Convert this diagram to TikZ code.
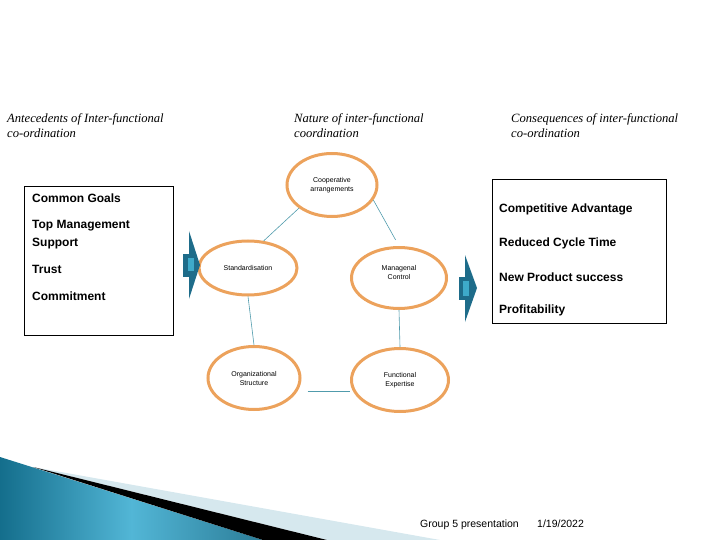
\documentclass[tikz,border=0pt]{standalone}
\usepackage{fontspec}
\setmainfont{Liberation Serif}
\setsansfont{Liberation Sans}
\usepackage{tikz}
\usetikzlibrary{shapes.geometric}
\definecolor{ringorange}{RGB}{236,162,92}
\definecolor{linkteal}{RGB}{80,155,172}
\definecolor{arrowdark}{RGB}{30,108,138}
\definecolor{arrowlight}{RGB}{62,170,202}
\definecolor{wavedark}{RGB}{20,110,140}
\definecolor{wavelight}{RGB}{82,182,214}
\definecolor{wavepale}{RGB}{214,232,238}

\begin{document}
\begin{tikzpicture}[x=1pt,y=-1pt,
		ring/.style={draw=ringorange, line width=3pt, ellipse, inner sep=0pt, align=center, font=\sffamily\fontsize{7}{9}\selectfont},
		link/.style={draw=linkteal, line width=0.6pt},
		head/.style={anchor=base west, inner sep=0pt, font=\itshape\fontsize{12.6}{15}\selectfont},
		item/.style={anchor=base west, inner sep=0pt, font=\sffamily\bfseries\fontsize{12}{15}\selectfont},
		foot/.style={anchor=base west, inner sep=0pt, font=\sffamily\fontsize{10.5}{12}\selectfont}]
		\useasboundingbox (0,0) rectangle (720,540);

		\shade[left color=wavedark, right color=wavedark!90, middle color=wavelight] (0,457) -- (263,540) -- (0,540) -- cycle;
		\fill[wavepale] (33,467) -- (440,540) -- (327,540) -- cycle;
		\fill[black] (33,467) -- (327,540) -- (263,540) -- cycle;

		\node[head] (antea) at (7,123) {Antecedents of Inter-functional};
		\node[head] (anteb) at (7,138) {co-ordination};
		\node[head] (natua) at (294,123) {Nature of inter-functional};
		\node[head] (natub) at (294,138) {coordination};
		\node[head] (consa) at (511,123) {Consequences of inter-functional};
		\node[head] (consb) at (511,138) {co-ordination};

		\draw[line width=0.8pt] (24,186) rectangle (173,335);
		\node[item] (goals) at (32,203) {Common Goals};
		\node[item] (topma) at (32,229) {Top Management};
		\node[item] (suppo) at (32,246) {Support};
		\node[item] (trust) at (32,273) {Trust};
		\node[item] (commi) at (32,300) {Commitment};

		\draw[line width=0.8pt] (492,179) rectangle (666,323);
		\node[item] (compe) at (499,213) {Competitive Advantage};
		\node[item] (cycle) at (499,247) {Reduced Cycle Time};
		\node[item] (newpr) at (499,281) {New Product success};
		\node[item] (profi) at (499,313) {Profitability};

		\node[ring, minimum width=90pt, minimum height=63pt] (coop) at (332,185) {Cooperative\\arrangements};
		\node[ring, minimum width=98pt, minimum height=54pt] (stand) at (248,268) {Standardisation};
		\node[ring, minimum width=95pt, minimum height=61pt] (manag) at (399,278) {Managenal\\Control\\[3pt]};
		\node[ring, minimum width=92pt, minimum height=63pt] (orgst) at (254,378) {Organizational\\Structure};
		\node[ring, minimum width=97pt, minimum height=63pt] (funct) at (400,380) {Functional\\Expertise};

		\draw[link] (coop.215) -- (stand.60);
		\draw[link, shorten >=7pt] (coop.340) -- (manag.north);
		\draw[link] (stand.south) -- (orgst.north);
		\draw[link] (manag.south) -- (funct.north);
		\draw[link] ([xshift=6pt, yshift=-13pt]orgst.east) -- ([yshift=-11pt]funct.west);

		\fill[arrowdark] (183,254) rectangle (190,277);
		\fill[arrowdark] (189,231) -- (200,265) -- (189,299) -- cycle;
		\fill[arrowlight] (188,258) rectangle (194,271);
		\fill[arrowdark] (459,277) rectangle (466,300);
		\fill[arrowdark] (465,255) -- (477,288) -- (465,322) -- cycle;
		\fill[arrowlight] (463,281) rectangle (469,296);

		\node[foot] (group) at (420,527) {Group 5 presentation};
		\node[foot] (datum) at (537,527) {1/19/2022};
	\end{tikzpicture}
\end{document}
